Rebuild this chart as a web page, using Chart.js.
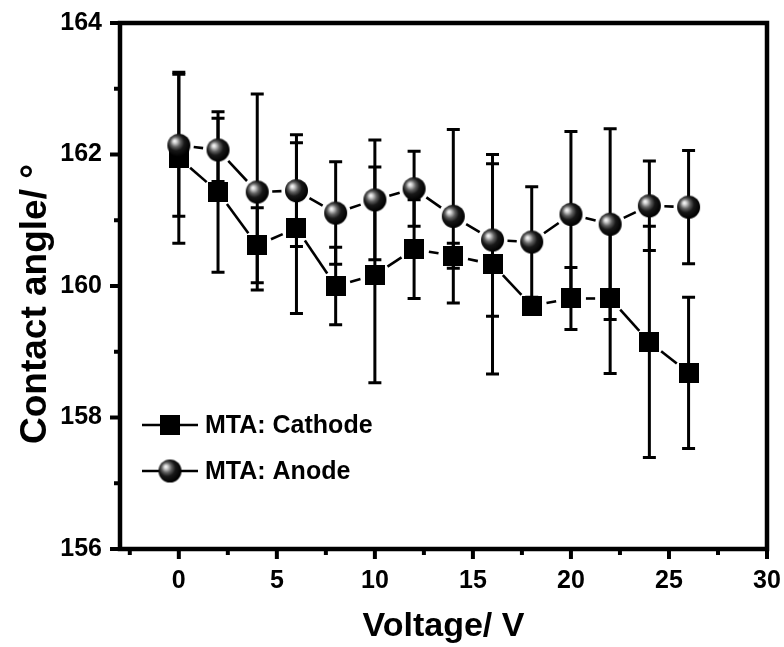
<!DOCTYPE html>
<html>
<head>
<meta charset="utf-8">
<script src="https://cdn.jsdelivr.net/npm/chart.js@4"></script>
<style>
  html, body { margin: 0; padding: 0; background: #fff; }
</style>
</head>
<body>
<canvas id="myChart" width="784" height="647"></canvas>
<script>
const voltage = [0, 2, 4, 6, 8, 10, 12, 14, 16, 18, 20, 22, 24, 26];

const cathodeAngle = [161.95, 161.43, 160.62, 160.88, 160.00, 160.17, 160.56, 160.46, 160.33, 159.70, 159.81, 159.81, 159.15, 158.68];
const cathodeErr   = [1.30, 1.22, 0.57, 1.30, 0.59, 1.64, 0.75, 0.19, 1.67, 0.12, 0.47, 1.14, 1.76, 1.15];

const anodeAngle = [162.14, 162.07, 161.43, 161.45, 161.11, 161.31, 161.48, 161.06, 160.70, 160.67, 161.09, 160.94, 161.22, 161.20];
const anodeErr   = [1.08, 0.48, 1.49, 0.85, 0.78, 0.91, 0.57, 1.32, 1.16, 0.84, 1.26, 1.45, 0.68, 0.86];

const xTickValues = [0, 5, 10, 15, 20, 25, 30];
const xMinorTicks = [-2.5, 2.5, 7.5, 12.5, 17.5, 22.5, 27.5];
const yTickValues = [156, 158, 160, 162, 164];
const yMinorTicks = [157, 159, 161, 163];

const FONT = '"Liberation Sans", Arial, sans-serif';
const ctx = document.getElementById('myChart').getContext('2d');

function makeSphere(r) {
    const c = document.createElement('canvas');
    const s = r * 2 + 2;
    c.width = s; c.height = s;
    const g = c.getContext('2d');
    const cx = s / 2, cy = s / 2;
    const grad = g.createRadialGradient(cx - r * 0.38, cy - r * 0.38, 0, cx - r * 0.15, cy - r * 0.15, r * 1.15);
    grad.addColorStop(0, '#ffffff');
    grad.addColorStop(0.14, '#d4d4d4');
    grad.addColorStop(0.38, '#606060');
    grad.addColorStop(0.62, '#181818');
    grad.addColorStop(1, '#000000');
    g.fillStyle = grad;
    g.beginPath();
    g.arc(cx, cy, r, 0, Math.PI * 2);
    g.fill();
    return c;
}

function makeSquare(side) {
    const c = document.createElement('canvas');
    c.width = side; c.height = side;
    const g = c.getContext('2d');
    g.fillStyle = '#000';
    g.fillRect(0, 0, side, side);
    return c;
}

const sphere = makeSphere(11.5);
const square = makeSquare(20);

const series = [
    { values: cathodeAngle, errs: cathodeErr },
    { values: anodeAngle, errs: anodeErr }
];

// lines with a gap at each symbol, then error bars, under the symbols
const linesAndBars = {
    id: 'linesAndBars',
    beforeDatasetsDraw(chart) {
        const c = chart.ctx;
        const xs = chart.scales.x, ys = chart.scales.y;
        const gap = 15;
        c.save();
        c.strokeStyle = '#000';
        c.lineWidth = 2.6;
        c.lineCap = 'butt';
        for (const s of series) {
            for (let i = 0; i < voltage.length - 1; i++) {
                const x1 = xs.getPixelForValue(voltage[i]), y1 = ys.getPixelForValue(s.values[i]);
                const x2 = xs.getPixelForValue(voltage[i + 1]), y2 = ys.getPixelForValue(s.values[i + 1]);
                const dx = x2 - x1, dy = y2 - y1;
                const len = Math.sqrt(dx * dx + dy * dy);
                if (len <= gap * 2) continue;
                const ux = dx / len, uy = dy / len;
                c.beginPath();
                c.moveTo(x1 + ux * gap, y1 + uy * gap);
                c.lineTo(x2 - ux * gap, y2 - uy * gap);
                c.stroke();
            }
        }
        c.lineWidth = 3;
        for (const s of series) {
            for (let i = 0; i < voltage.length; i++) {
                const x = xs.getPixelForValue(voltage[i]);
                const top = ys.getPixelForValue(s.values[i] + s.errs[i]);
                const bot = ys.getPixelForValue(s.values[i] - s.errs[i]);
                c.beginPath();
                c.moveTo(x, top); c.lineTo(x, bot);
                c.moveTo(x - 6.5, top); c.lineTo(x + 6.5, top);
                c.moveTo(x - 6.5, bot); c.lineTo(x + 6.5, bot);
                c.stroke();
            }
        }
        c.restore();
    }
};

// frame, outward ticks, y title and the legend
const frameAndLegend = {
    id: 'frameAndLegend',
    afterDraw(chart) {
        const c = chart.ctx;
        const a = chart.chartArea;
        const xs = chart.scales.x, ys = chart.scales.y;
        c.save();
        c.strokeStyle = '#000';
        c.lineWidth = 4;
        c.lineCap = 'butt';
        for (const v of xTickValues) {
            const x = xs.getPixelForValue(v);
            c.beginPath(); c.moveTo(x, a.bottom); c.lineTo(x, a.bottom + 10); c.stroke();
        }
        for (const v of xMinorTicks) {
            const x = xs.getPixelForValue(v);
            c.beginPath(); c.moveTo(x, a.bottom); c.lineTo(x, a.bottom + 6); c.stroke();
        }
        for (const v of yTickValues) {
            const y = ys.getPixelForValue(v);
            c.beginPath(); c.moveTo(a.left, y); c.lineTo(a.left - 10, y); c.stroke();
        }
        for (const v of yMinorTicks) {
            const y = ys.getPixelForValue(v);
            c.beginPath(); c.moveTo(a.left, y); c.lineTo(a.left - 6, y); c.stroke();
        }
        c.lineWidth = 4.5;
        c.strokeRect(a.left, a.top, a.right - a.left, a.bottom - a.top);

        // y axis title
        c.save();
        c.translate(36, 304);
        c.rotate(-Math.PI / 2);
        c.font = 'bold 37px ' + FONT;
        c.fillStyle = '#000';
        c.textAlign = 'center';
        c.textBaseline = 'middle';
        c.fillText('Contact angle/ °', 0, 0);
        c.restore();

        const items = [
            { label: 'MTA: Cathode', img: square, y: 425 },
            { label: 'MTA: Anode', img: sphere, y: 471 }
        ];
        c.font = 'bold 25px ' + FONT;
        c.fillStyle = '#000';
        c.textBaseline = 'middle';
        c.textAlign = 'left';
        c.lineWidth = 2.6;
        for (const it of items) {
            c.beginPath(); c.moveTo(142, it.y); c.lineTo(198, it.y); c.stroke();
            c.drawImage(it.img, 170 - it.img.width / 2, it.y - it.img.height / 2);
            c.fillText(it.label, 205, it.y + 1);
        }
        c.restore();
    }
};

function noOverflow(s) {
    s.paddingLeft = 0; s.paddingRight = 0; s.paddingTop = 0; s.paddingBottom = 0;
}

const myChart = new Chart(ctx, {
    type: 'scatter',
    data: {
        datasets: [{
            label: 'MTA: Cathode',
            data: voltage.map((v, i) => ({ x: v, y: cathodeAngle[i] })),
            pointStyle: square,
            pointRadius: 10,
            showLine: false,
            order: 1
        }, {
            label: 'MTA: Anode',
            data: voltage.map((v, i) => ({ x: v, y: anodeAngle[i] })),
            pointStyle: sphere,
            pointRadius: 11,
            showLine: false,
            order: 0
        }]
    },
    options: {
        responsive: false,
        devicePixelRatio: 1,
        animation: false,
        events: [],
        layout: { padding: { top: 23, right: 17, left: 0, bottom: 0 } },
        plugins: {
            legend: { display: false },
            tooltip: { enabled: false }
        },
        scales: {
            x: {
                type: 'linear',
                min: -3,
                max: 30,
                grid: { display: false },
                border: { display: false },
                afterBuildTicks: s => { s.ticks = xTickValues.map(v => ({ value: v })); },
                afterFit: s => { s.height = 98; noOverflow(s); },
                ticks: {
                    autoSkip: false,
                    maxRotation: 0,
                    padding: 9,
                    color: '#000',
                    font: { family: FONT, size: 25, weight: 'bold' }
                },
                title: {
                    display: true,
                    text: 'Voltage/ V',
                    color: '#000',
                    padding: 0,
                    font: { family: FONT, size: 34, weight: 'bold' }
                }
            },
            y: {
                min: 156,
                max: 164,
                grid: { display: false },
                border: { display: false },
                afterBuildTicks: s => { s.ticks = yTickValues.map(v => ({ value: v })); },
                afterFit: s => { s.width = 120; noOverflow(s); },
                ticks: {
                    autoSkip: false,
                    padding: 10,
                    color: '#000',
                    font: { family: FONT, size: 25, weight: 'bold' }
                },
                title: { display: false }
            }
        }
    },
    plugins: [linesAndBars, frameAndLegend]
});
</script>
</body>
</html>
